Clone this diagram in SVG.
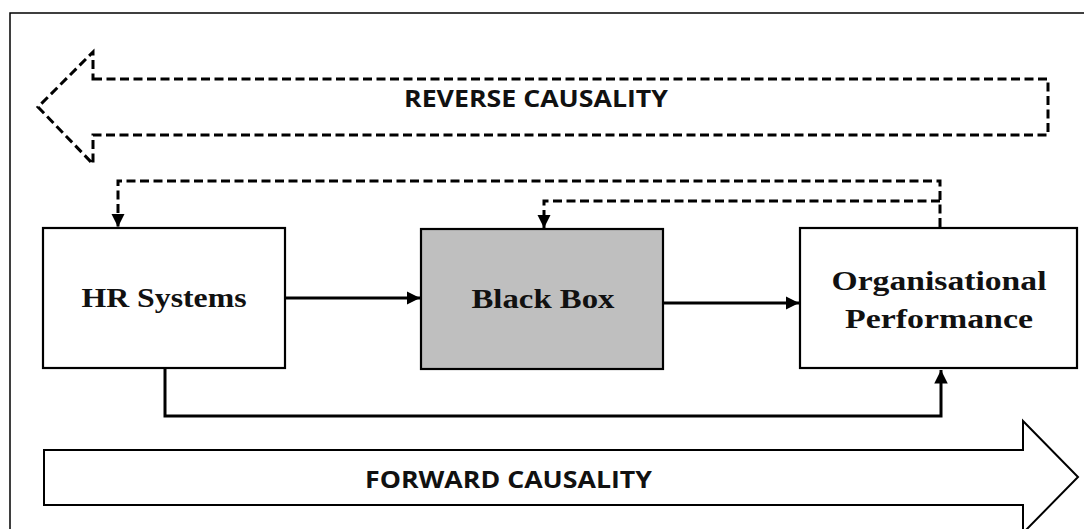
<svg xmlns="http://www.w3.org/2000/svg" width="1084" height="529" viewBox="0 0 1084 529">
<style>
.frame{fill:none;stroke:#000;stroke-width:1.5}
.box{stroke:#000;stroke-width:2.2}
.dash{fill:none;stroke:#000;stroke-width:3;stroke-dasharray:9,4.5}
.solid{fill:none;stroke:#000;stroke-width:3}
.big{fill:#fff;stroke:#000;stroke-width:2}
.lbl{font-family:"Liberation Serif","DejaVu Serif",serif;font-weight:bold;font-size:28px;fill:#111}
.cap{font-family:"Open Sans","Liberation Sans",sans-serif;font-weight:bold;font-size:23px;fill:#111}
</style>
<defs>
<marker id="ah" viewBox="0 0 10 10" refX="10" refY="5" markerWidth="4.5" markerHeight="4.5" orient="auto" markerUnits="strokeWidth">
<path d="M0,0 L10,5 L0,10 z" fill="#000"/>
</marker>
</defs>
<rect class="frame" x="10" y="13" width="1080" height="525"/>
<g id="reverse-causality">
<path class="dash" d="M93,79 H1048 V135 H93 V164 L38,107 L93,52 Z"/>
<text class="cap" x="404" y="107" textLength="264" lengthAdjust="spacingAndGlyphs">REVERSE CAUSALITY</text>
</g>
<g id="forward-causality">
<path class="big" d="M44,450 H1023 V421 L1078,477 L1023,533 V505 H44 Z"/>
<text class="cap" x="365" y="488" textLength="287" lengthAdjust="spacingAndGlyphs">FORWARD CAUSALITY</text>
</g>
<g id="hr-systems">
<rect class="box" x="43" y="228" width="242" height="140" fill="#fff"/>
<text class="lbl" x="164" y="307" text-anchor="middle" textLength="165" lengthAdjust="spacingAndGlyphs">HR Systems</text>
</g>
<g id="black-box">
<rect class="box" x="421" y="229" width="242" height="140" fill="#bfbfbf"/>
<text class="lbl" x="543" y="308" text-anchor="middle" textLength="143" lengthAdjust="spacingAndGlyphs">Black Box</text>
</g>
<g id="organisational-performance">
<rect class="box" x="800" y="228" width="277" height="140" fill="#fff"/>
<text class="lbl" x="939" y="290" text-anchor="middle" textLength="215" lengthAdjust="spacingAndGlyphs">Organisational</text>
<text class="lbl" x="939" y="328" text-anchor="middle" textLength="188" lengthAdjust="spacingAndGlyphs">Performance</text>
</g>
<g id="connectors">
<path class="solid" d="M286,298 H420" marker-end="url(#ah)"/>
<path class="solid" d="M664,303 H799" marker-end="url(#ah)"/>
<path class="solid" d="M165,369 V416 H941 V370" marker-end="url(#ah)"/>
<path class="dash" d="M940,227 V181 H118 V227" marker-end="url(#ah)"/>
<path class="dash" d="M940,201 H544 V228" marker-end="url(#ah)"/>
</g>
</svg>
